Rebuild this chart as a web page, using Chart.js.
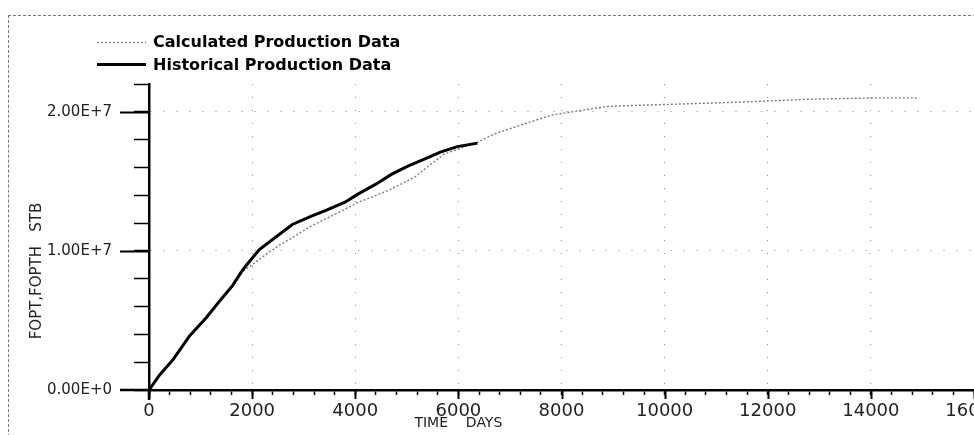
<!DOCTYPE html>
<html>
<head>
<meta charset="utf-8">
<script src="https://cdn.jsdelivr.net/npm/chart.js@4.4.1/dist/chart.umd.min.js"></script>
<style>
  html, body { margin: 0; padding: 0; background: #fff; }
  #wrap { position: relative; width: 974px; height: 435px; overflow: hidden; }
  #frame { position: absolute; left: 8px; top: 15px; right: -2px; bottom: -2px; border-left: 1px dashed #777; border-top: 1px dashed #777; }
  canvas { position: absolute; left: 0; top: 0; }
</style>
</head>
<body>
<div id="wrap">
  <div id="frame"></div>
  <canvas id="c" width="974" height="435"></canvas>
</div>
<script>
// ---- Data ----
const seriesNames = ["Calculated Production Data", "Historical Production Data"];
const xAxisTitle = "TIME    DAYS";
const yAxisTitle = "FOPT,FOPTH   STB";

const historicalDays = [0, 210, 470, 790, 1110, 1370, 1620, 1810, 1940, 2140, 2390, 2780, 3150, 3420, 3800, 4060, 4400, 4700, 5020, 5340, 5650, 5980, 6370];
const historicalValues = [0, 1.1e6, 2.2e6, 3.9e6, 5.2e6, 6.4e6, 7.5e6, 8.6e6, 9.2e6, 10.1e6, 10.8e6, 11.9e6, 12.5e6, 12.9e6, 13.5e6, 14.1e6, 14.8e6, 15.5e6, 16.1e6, 16.6e6, 17.1e6, 17.5e6, 17.75e6];

const calculatedDays = [0, 210, 470, 790, 1110, 1370, 1620, 1810, 1940, 2140, 2520, 2780, 3100, 3420, 3750, 4060, 4380, 4700, 5150, 5470, 5720, 5980, 6370, 6690, 7330, 7850, 8920, 10210, 11500, 12770, 14060, 14890];
const calculatedValues = [0, 1.05e6, 2.15e6, 3.85e6, 5.15e6, 6.35e6, 7.45e6, 8.5e6, 8.85e6, 9.4e6, 10.4e6, 10.95e6, 11.7e6, 12.3e6, 12.9e6, 13.5e6, 13.95e6, 14.45e6, 15.3e6, 16.25e6, 16.95e6, 17.3e6, 17.8e6, 18.4e6, 19.2e6, 19.8e6, 20.4e6, 20.55e6, 20.7e6, 20.9e6, 21.0e6, 21.0e6];

const xMajorTicks = [0, 2000, 4000, 6000, 8000, 10000, 12000, 14000, 16000];
const yMajorTicks = [0, 1e7, 2e7];
const yTickLabels = ["0.00E+0", "1.00E+7", "2.00E+7"];

// ---- Styles ----
const calcColor = "#7a7a7a";
const histColor = "#000000";

const toPoints = (xs, ys) => xs.map((x, i) => ({ x: x, y: ys[i] }));

const decorPlugin = {
  id: "decor",
  afterDraw(chart) {
    const ctx = chart.ctx;
    const xs = chart.scales.x, ys = chart.scales.y;
    const area = chart.chartArea;
    ctx.save();
    ctx.strokeStyle = "#000";
    // axis extensions
    ctx.lineWidth = 2.5;
    ctx.beginPath();
    ctx.moveTo(120, area.bottom); ctx.lineTo(area.left, area.bottom);
    ctx.moveTo(area.left, area.bottom); ctx.lineTo(area.left, area.bottom + 10);
    ctx.stroke();
    // long major ticks
    ctx.lineWidth = 2;
    ctx.beginPath();
    yMajorTicks.forEach(v => {
      if (v === 0) return;
      const py = Math.round(ys.getPixelForValue(v)) + 0.5;
      ctx.moveTo(120, py); ctx.lineTo(area.left, py);
    });
    xMajorTicks.forEach(v => {
      const px = Math.round(xs.getPixelForValue(v)) + 0.5;
      ctx.moveTo(px, area.bottom); ctx.lineTo(px, area.bottom + 9);
    });
    ctx.stroke();
    // axis titles
    ctx.fillStyle = "#222";
    ctx.textAlign = "center";
    ctx.textBaseline = "middle";
    ctx.font = "14px 'DejaVu Sans'";
    ctx.fillText(xAxisTitle, xs.getPixelForValue(6000), 423);
    ctx.save();
    ctx.translate(37, 271);
    ctx.rotate(-Math.PI / 2);
    ctx.font = "15px 'DejaVu Sans'";
    ctx.fillText(yAxisTitle, 0, 0);
    ctx.restore();
    // legend
    ctx.textAlign = "left";
    ctx.font = "bold 16px 'DejaVu Sans'";
    ctx.fillStyle = "#000";
    ctx.strokeStyle = calcColor;
    ctx.lineWidth = 1.3;
    ctx.setLineDash([2, 2]);
    ctx.beginPath(); ctx.moveTo(97, 42.5); ctx.lineTo(146, 42.5); ctx.stroke();
    ctx.setLineDash([]);
    ctx.strokeStyle = histColor;
    ctx.lineWidth = 3;
    ctx.beginPath(); ctx.moveTo(97, 64.5); ctx.lineTo(146, 64.5); ctx.stroke();
    ctx.fillText(seriesNames[0], 153, 43);
    ctx.fillText(seriesNames[1], 153, 66);
    ctx.restore();
  }
};

new Chart(document.getElementById("c"), {
  type: "line",
  data: {
    datasets: [
      {
        label: seriesNames[0],
        data: toPoints(calculatedDays, calculatedValues),
        borderColor: calcColor,
        borderWidth: 1.4,
        borderDash: [2, 2],
        pointRadius: 0,
        tension: 0,
        fill: false,
        order: 2
      },
      {
        label: seriesNames[1],
        data: toPoints(historicalDays, historicalValues),
        borderColor: histColor,
        borderWidth: 3,
        pointRadius: 0,
        tension: 0,
        fill: false,
        order: 1
      }
    ]
  },
  options: {
    responsive: false,
    animation: false,
    devicePixelRatio: 1,
    layout: { padding: { left: 0, right: -7, top: 84, bottom: 0 } },
    plugins: { legend: { display: false }, tooltip: { enabled: false } },
    scales: {
      x: {
        type: "linear",
        min: 0, max: 16000,
        afterFit(s) { s.height = 45; s.paddingLeft = 0; s.paddingRight = 0; },
        ticks: {
          stepSize: 400,
          autoSkip: false,
          maxRotation: 0,
          padding: 6,
          color: "#222",
          font: { family: "DejaVu Sans", size: 18 },
          callback: (v) => (xMajorTicks.includes(v) ? String(v) : "")
        },
        grid: {
          drawOnChartArea: true,
          color: (c) => (c.tick && xMajorTicks.includes(c.tick.value) && c.tick.value !== 0 ? "#8a8a8a" : "rgba(0,0,0,0)"),
          lineWidth: 1,
          tickLength: 5,
          tickColor: "#000",
          tickWidth: 1.5,
          tickBorderDash: []
        },
        border: { display: true, color: "#000", width: 2.5, dash: [1, 12] }
      },
      y: {
        type: "linear",
        min: 0, max: 2.2e7,
        afterFit(s) { s.width = 149; s.paddingTop = 0; s.paddingBottom = 0; },
        ticks: {
          stepSize: 2e6,
          autoSkip: false,
          padding: 22,
          color: "#222",
          font: { family: "DejaVu Sans", size: 15 },
          callback: (v) => {
            const i = yMajorTicks.indexOf(v);
            return i >= 0 ? yTickLabels[i] : "";
          }
        },
        grid: {
          drawOnChartArea: true,
          color: (c) => (c.tick && yMajorTicks.includes(c.tick.value) && c.tick.value !== 0 ? "#8a8a8a" : "rgba(0,0,0,0)"),
          lineWidth: 1,
          tickLength: 15,
          tickColor: "#000",
          tickWidth: 1.5,
          tickBorderDash: []
        },
        border: { display: true, color: "#000", width: 2.5, dash: [1, 12] }
      }
    }
  },
  plugins: [decorPlugin]
});
</script>
</body>
</html>
